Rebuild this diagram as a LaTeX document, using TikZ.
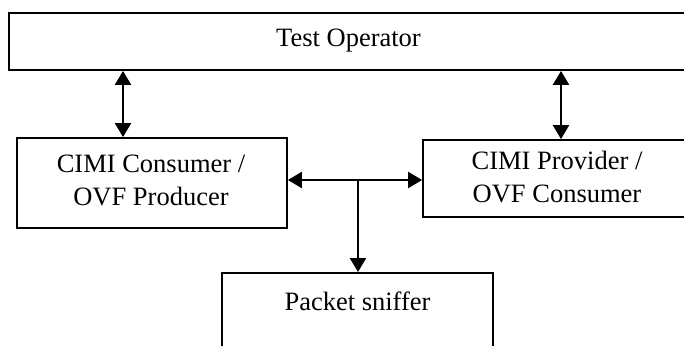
\documentclass[tikz,border=0pt]{standalone}
\usepackage{fontspec}
\setmainfont{Liberation Serif}
\usetikzlibrary{arrows.meta}
\begin{document}
\begin{tikzpicture}[x=1pt,y=-1pt,
  box/.style={draw, line width=1.8pt, rectangle, inner sep=0pt, align=center,
    font=\fontsize{26.5}{33}\selectfont},
  lbl/.style={inner sep=0pt, align=center, font=\fontsize{26.5}{33}\selectfont},
  link/.style={line width=2.3pt, -{Triangle[length=14pt,width=16pt]}},
  dlink/.style={line width=2.3pt, {Triangle[length=14pt,width=16pt]}-{Triangle[length=14pt,width=16pt]}}]
\useasboundingbox (0,0) rectangle (684,345);
\clip (0,0) rectangle (684,345);
\fill[white] (0,0) rectangle (684,345);
\node[box, minimum width=679pt, minimum height=57pt] (top) at (348.5,41.5) {};
\node[lbl] (topT) at (348.5,40.5) {Test Operator};
\node[box, minimum width=270pt, minimum height=90pt] (cons) at (152,183) {};
\node[lbl] (consT) at (151,180) {CIMI Consumer /\\OVF Producer};
\node[box, minimum width=269pt, minimum height=77pt] (prov) at (557.5,178.5) {};
\node[lbl] (provT) at (557,177) {CIMI Provider /\\OVF Consumer};
\node[box, minimum width=271pt, minimum height=100pt, anchor=north] (sniff) at (357.5,272) {};
\node[lbl] (sniffT) at (357.5,301) {Packet sniffer};
\coordinate (lx) at (123,0);
\coordinate (rx) at (561,0);
\coordinate (hy) at (0,180);
\coordinate (j) at (358,180);
\draw[dlink] (top.south -| lx) -- (cons.north -| lx);
\draw[dlink] (top.south -| rx) -- (prov.north -| rx);
\draw[dlink] (cons.east |- hy) -- (prov.west |- hy);
\draw[link] (j) -- (sniff.north -| j);
\end{tikzpicture}
\end{document}
